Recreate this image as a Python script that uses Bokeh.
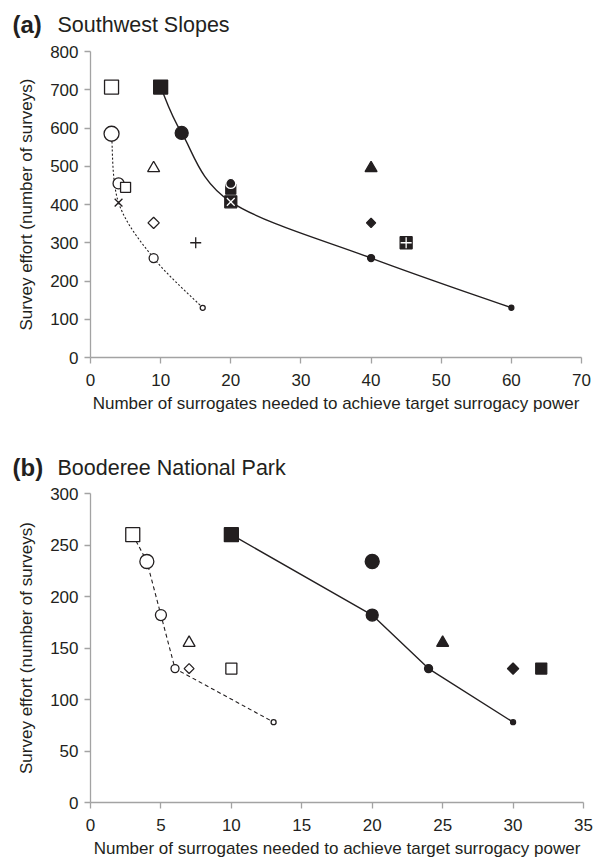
import math
from bokeh.plotting import figure
from bokeh.layouts import column
from bokeh.models import Label, Range1d, SingleIntervalTicker, ColumnDataSource
from bokeh.embed import file_html
from bokeh.resources import INLINE

INK = "#231f20"
AXIS = "#a3a3a3"
FONT = "Liberation Sans"

# ---------------- Panel (a) Southwest Slopes ----------------
a_title = ["(a)", "Southwest Slopes"]
a_xticks = [0, 10, 20, 30, 40, 50, 60, 70]
a_yticks = [0, 100, 200, 300, 400, 500, 600, 700, 800]
a_solid_x = [10, 13, 20, 40, 60]
a_solid_y = [707, 587, 407, 260, 130]
a_dash_x = [3, 4, 9, 16]
a_dash_y = [585, 405, 260, 130]
a_x = [3, 10, 13, 3, 20, 20, 20, 9, 4, 5, 4, 9, 15, 9, 16, 40, 40, 45, 40, 60]
a_y = [707, 707, 587, 585, 440, 455, 407, 495, 455, 445, 405, 352, 300, 260, 130, 495, 352, 300, 260, 130]
a_kind = ["square", "square", "circle", "circle", "square", "circle", "square_x", "triangle",
          "circle", "square", "x", "diamond", "cross", "circle", "circle", "triangle",
          "diamond", "square_cross", "circle", "circle"]
a_filled = [False, True, True, False, True, True, True, False, False, False, False, False,
            False, False, False, True, True, True, True, True]
a_size = [14, 14, 13, 15, 10, 10, 12, 12, 11, 10, 11, 8, 11, 9, 5, 12, 6.5, 12, 7, 5]
a_white_edge = [False, False, False, False, False, True, False, False, False, False, False, False,
                False, False, False, False, False, False, False, False]

# ---------------- Panel (b) Booderee National Park ----------------
b_title = ["(b)", "Booderee National Park"]
b_xticks = [0, 5, 10, 15, 20, 25, 30, 35]
b_yticks = [0, 50, 100, 150, 200, 250, 300]
b_solid_x = [10, 20, 24, 30]
b_solid_y = [260, 182, 130, 78]
b_dash_x = [3, 4, 5, 6, 13]
b_dash_y = [260, 234, 182, 130, 78]
b_x = [3, 4, 5, 6, 13, 7, 7, 10, 10, 20, 20, 24, 30, 25, 30, 32]
b_y = [260, 234, 182, 130, 78, 155, 130, 130, 260, 234, 182, 130, 78, 155, 130, 130]
b_kind = ["square", "circle", "circle", "circle", "circle", "triangle", "diamond", "square",
          "square", "circle", "circle", "circle", "circle", "triangle", "diamond", "square"]
b_filled = [False, False, False, False, False, False, False, False,
            True, True, True, True, True, True, True, True]
b_size = [14, 14, 11, 8, 5, 12, 7, 11, 14, 14, 12, 8, 5, 12, 8, 11]
b_white_edge = [False] * len(b_x)

X_LABEL = "Number of surrogates needed to achieve target surrogacy power"
Y_LABEL = "Survey effort (number of surveys)"


def catmull_bezier(xs, ys):
    n = len(xs)
    out = dict(x0=[], y0=[], x1=[], y1=[], cx0=[], cy0=[], cx1=[], cy1=[])
    for i in range(n - 1):
        xp, yp = (xs[i - 1], ys[i - 1]) if i > 0 else (xs[i], ys[i])
        xn, yn = (xs[i + 2], ys[i + 2]) if i + 2 < n else (xs[i + 1], ys[i + 1])
        out["x0"].append(xs[i]); out["y0"].append(ys[i])
        out["x1"].append(xs[i + 1]); out["y1"].append(ys[i + 1])
        out["cx0"].append(xs[i] + (xs[i + 1] - xp) / 6.0)
        out["cy0"].append(ys[i] + (ys[i + 1] - yp) / 6.0)
        out["cx1"].append(xs[i + 1] - (xn - xs[i]) / 6.0)
        out["cy1"].append(ys[i + 1] - (yn - ys[i]) / 6.0)
    return out


def make_panel(title, xticks, yticks, frame_w, frame_h, top, bottom, right):
    p = figure(frame_width=frame_w, frame_height=frame_h, title=None,
               x_range=Range1d(xticks[0], xticks[-1]), y_range=Range1d(yticks[0], yticks[-1]),
               output_backend="svg", toolbar_location=None,
               min_border_left=90, min_border_right=right,
               min_border_top=top, min_border_bottom=bottom)
    p.outline_line_color = None
    p.grid.visible = False
    p.xaxis.ticker = SingleIntervalTicker(interval=xticks[1] - xticks[0])
    p.yaxis.ticker = SingleIntervalTicker(interval=yticks[1] - yticks[0])
    for ax in (p.xaxis[0], p.yaxis[0]):
        ax.axis_line_color = AXIS
        ax.axis_line_width = 1.3
        ax.major_tick_line_color = AXIS
        ax.major_tick_line_width = 1.3
        ax.minor_tick_line_color = None
        ax.major_tick_in = 0
        ax.major_tick_out = 6
        ax.major_label_text_font = FONT
        ax.major_label_text_font_size = "17px"
        ax.major_label_text_color = INK
        ax.axis_label_text_font = FONT
        ax.axis_label_text_font_size = "17px"
        ax.axis_label_text_font_style = "normal"
        ax.axis_label_text_color = INK
    p.xaxis.axis_label = X_LABEL
    p.yaxis.axis_label = Y_LABEL
    p.xaxis.major_label_standoff = 10
    p.xaxis.axis_label_standoff = 5
    p.yaxis.major_label_standoff = 6
    p.yaxis.axis_label_standoff = 11
    # heading: labels live in the top side panel (not clipped), canvas pixel coordinates
    base_y = top - 26
    p.add_layout(Label(x=12, y=base_y, x_units="canvas", y_units="canvas",
                       text=title[0], text_font=FONT, text_font_size="24px",
                       text_font_style="bold", text_color=INK,
                       text_baseline="alphabetic"), "above")
    p.add_layout(Label(x=57, y=base_y, x_units="canvas", y_units="canvas",
                       text=title[1], text_font=FONT, text_font_size="21.5px",
                       text_color=INK, text_baseline="alphabetic"), "above")
    return p


def add_points(p, xs, ys, kinds, filled, sizes, white_edge):
    base = {"square_x": "square", "square_cross": "square", "diamond": "square"}
    src = ColumnDataSource(dict(
        x=xs, y=ys,
        marker=[base.get(k, k) for k in kinds],
        angle=[math.pi / 4 if k == "diamond" else 0.0 for k in kinds],
        size=sizes,
        fill=[INK if f else "white" for f in filled],
        line=["white" if w else INK for w in white_edge],
    ))
    p.scatter("x", "y", source=src, marker="marker", size="size", angle="angle",
              fill_color="fill", line_color="line", line_width=1.3)
    ox, oy, om, osz = [], [], [], []
    for x, y, k, s in zip(xs, ys, kinds, sizes):
        if k in ("square_x", "square_cross"):
            ox.append(x); oy.append(y)
            om.append("x" if k == "square_x" else "cross")
            osz.append(s - 1)
    if ox:
        p.scatter(ox, oy, marker=om, size=osz, line_color="white", line_width=1.3)


# Panel (a)
pa = make_panel(a_title, a_xticks, a_yticks, 491, 306, 50, 72, 12)
pa.bezier(source=ColumnDataSource(catmull_bezier(a_solid_x, a_solid_y)),
          x0="x0", y0="y0", x1="x1", y1="y1", cx0="cx0", cy0="cy0", cx1="cx1", cy1="cy1",
          line_color=INK, line_width=1.4)
pa.bezier(source=ColumnDataSource(catmull_bezier(a_dash_x, a_dash_y)),
          x0="x0", y0="y0", x1="x1", y1="y1", cx0="cx0", cy0="cy0", cx1="cx1", cy1="cy1",
          line_color=INK, line_width=1.1, line_dash="2 2")
add_points(pa, a_x, a_y, a_kind, a_filled, a_size, a_white_edge)

# Panel (b)
pb = make_panel(b_title, b_xticks, b_yticks, 493, 309, 64, 56, 10)
pb.line(b_solid_x, b_solid_y, line_color=INK, line_width=1.4)
pb.line(b_dash_x, b_dash_y, line_color=INK, line_width=1.1, line_dash="4 3")
add_points(pb, b_x, b_y, b_kind, b_filled, b_size, b_white_edge)

layout = column(pa, pb, spacing=0)
open("out.html", "w").write(file_html(layout, INLINE))
